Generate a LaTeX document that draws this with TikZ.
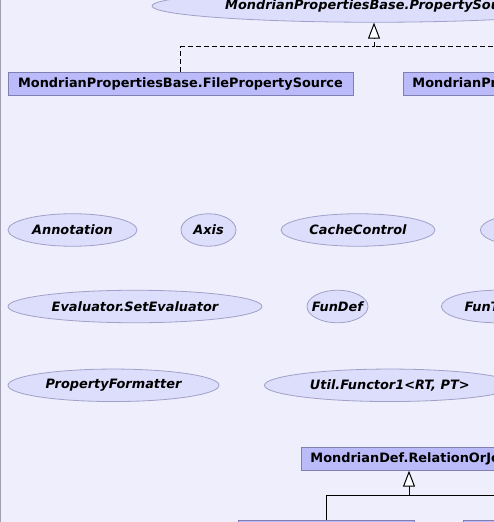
\documentclass[tikz,border=0pt]{standalone}
\usepackage{fontspec}
\setmainfont{DejaVu Sans}
\usetikzlibrary{arrows.meta,shapes.geometric}
\definecolor{bg}{HTML}{EEEEFC}
\definecolor{boxfill}{HTML}{BBBBFA}
\definecolor{boxline}{HTML}{7F7FB4}
\definecolor{ellfill}{HTML}{DDDDFC}
\definecolor{ellline}{HTML}{A0A0C8}
\definecolor{frameline}{HTML}{A0A0B0}
\newcommand{\nodefs}{\fontsize{12.9bp}{15bp}\selectfont\bfseries}
\tikzset{
  x=1bp, y=-1bp,
  cls/.style={draw=boxline, fill=boxfill, rectangle, minimum height=23bp,
    inner xsep=9bp, inner ysep=0pt, line width=0.9bp, font=\nodefs},
  ifc/.style={draw=ellline, fill=ellfill, ellipse, inner xsep=-12bp, inner ysep=0pt,
    minimum height=32.5bp, line width=0.8bp, font=\nodefs\itshape},
  conn/.style={line width=1bp, black},
  inh/.style={conn, -{Triangle[length=16bp,width=12bp,fill=white]}},
  impl/.style={conn, dash pattern=on 5bp off 3bp},
}
\begin{document}
\begin{tikzpicture}
\useasboundingbox (0,0) rectangle (494,522);
\clip (0,0) rectangle (494,522);
\fill[bg] (0,0) rectangle (494,522);
\draw[frameline, line width=1.2bp] (0.6,0) -- (0.6,522);

% top group
\node[ifc, minimum width=444bp] (psrc) at (374,6) {MondrianPropertiesBase.PropertySource};
\node[cls, minimum width=345bp] (fps) at (180.5,83.5) {MondrianPropertiesBase.FilePropertySource};
\node[cls, anchor=west] (ups) at (403,83.5) {MondrianPropertiesBase.UrlPropertySource};
\coordinate (j1) at (374,47);
\draw[impl] (fps.north) |- (j1);
\draw[impl] (ups.north) |- (j1);
\draw[impl] (j1) -- (374,38);
\draw[inh] (374,38) -- (psrc.south);

% row 1
\node[ifc, minimum width=129bp] (ann) at (72.5,230) {Annotation};
\node[ifc, minimum width=55bp] (axis) at (208.5,230) {Axis};
\node[ifc, minimum width=154bp] (cc) at (358,230) {CacheControl};
\node[ifc, minimum width=100bp, anchor=west] (r1d) at (480,230) {};

% row 2
\node[ifc, minimum width=254bp] (ev) at (135,306.5) {Evaluator.SetEvaluator};
\node[ifc, minimum width=61bp] (fundef) at (337.5,306.5) {FunDef};
\node[ifc, minimum width=111bp, anchor=west] (funtab) at (441,306.5) {FunTable};

% row 3
\node[ifc, minimum width=211bp] (pf) at (113.5,385.3) {PropertyFormatter};
\node[ifc, minimum width=250.6bp] (functor) at (389.8,385.3) {Util.Functor1<RT, PT>};

% bottom group
\node[cls, anchor=west] (rel) at (301,458.7) {MondrianDef.RelationOrJoin};
\node[cls, minimum width=173bp] (relation) at (326.5,531.5) {MondrianDef.Relation};
\node[cls, anchor=west] (join) at (463,531.5) {MondrianDef.Join};
\coordinate (j2) at (409,495.3);
\draw[conn] (relation.north) |- (j2);
\draw[conn] (join.north) |- (j2);
\draw[inh] (j2) -- (j2 |- rel.south);
\end{tikzpicture}
\end{document}
